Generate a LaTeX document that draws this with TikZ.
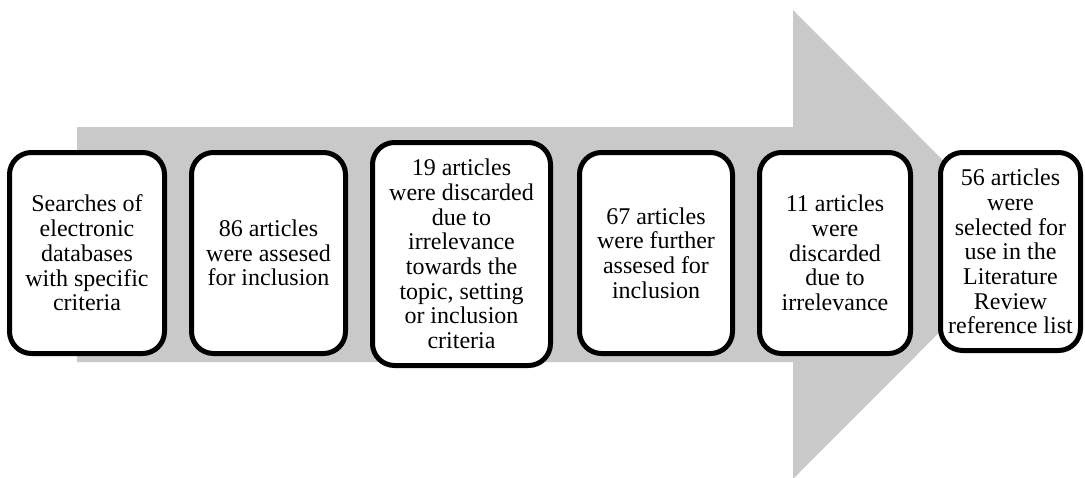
\documentclass[tikz,border=0pt]{standalone}
\usepackage{fontspec}
\setmainfont{Liberation Serif}
\newfontfamily\stepfont{Liberation Serif}
\definecolor{arrowgray}{RGB}{201,201,201}
\begin{document}
\begin{tikzpicture}[x=1pt,y=-1pt,
  stepbox/.style={draw=black, line width=5pt, fill=white, rounded corners=22pt,
    align=center, inner sep=0pt, font=\stepfont\fontsize{24}{24.7}\selectfont}]
\useasboundingbox (0,0) rectangle (1085,477);
\fill[arrowgray] (77,127) -- (793,127) -- (793,10) -- (1027,244.5) -- (793,479) -- (793,362) -- (77,362) -- cycle;
\node[stepbox, minimum width=155pt, minimum height=201pt] (b1) at (87,253)
  {Searches of\\electronic\\databases\\with specific\\criteria};
\node[stepbox, minimum width=154pt, minimum height=201pt] (b2) at (268.5,253)
  {86 articles\\were assesed\\for inclusion};
\node[stepbox, minimum width=178pt, minimum height=223pt] (b3) at (461.5,254)
  {19 articles\\were discarded\\due to\\irrelevance\\towards the\\topic, setting\\or inclusion\\criteria};
\node[stepbox, minimum width=153pt, minimum height=201pt] (b4) at (656,253)
  {67 articles\\were further\\assesed for\\inclusion};
\node[stepbox, minimum width=151pt, minimum height=201pt] (b5) at (835,253)
  {11 articles\\were\\discarded\\due to\\irrelevance};
\node[stepbox, minimum width=140pt, minimum height=198pt] (b6) at (1010.5,251.5)
  {56 articles\\were\\selected for\\use in the\\Literature\\Review\\reference list};
\end{tikzpicture}
\end{document}
